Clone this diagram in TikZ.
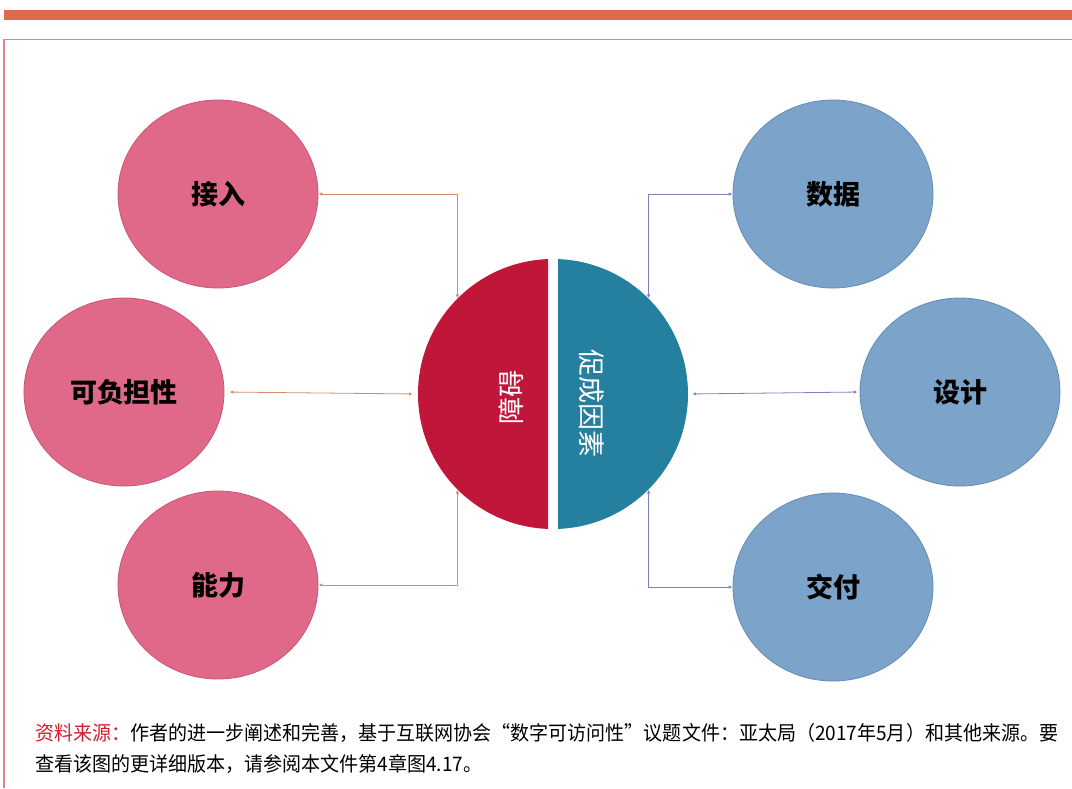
\documentclass[tikz,border=0pt]{standalone}
\usepackage{fontspec}
\newfontfamily\cjk{Noto Sans CJK SC}
\usetikzlibrary{shapes.geometric,arrows.meta}
\definecolor{barorange}{RGB}{222,108,72}
\definecolor{framered}{RGB}{230,128,138}
\definecolor{pinkfill}{RGB}{224,105,138}
\definecolor{pinkedge}{RGB}{200,85,115}
\definecolor{bluefill}{RGB}{124,164,202}
\definecolor{blueedge}{RGB}{100,140,180}
\definecolor{crimson}{RGB}{192,22,58}
\definecolor{teal}{RGB}{36,128,158}
\definecolor{leftline}{RGB}{215,140,110}
\definecolor{rightline}{RGB}{128,128,190}
\definecolor{srcred}{RGB}{210,30,45}
\tikzset{
  pinkball/.style={ellipse, fill=pinkfill, draw=pinkedge, line width=0.8pt, minimum width=200pt, minimum height=188pt, inner sep=0pt, font=\cjk\bfseries\fontsize{27}{27}\selectfont},
  blueball/.style={ellipse, fill=bluefill, draw=blueedge, line width=0.8pt, minimum width=200pt, minimum height=188pt, inner sep=0pt, font=\cjk\bfseries\fontsize{27}{27}\selectfont},
  lconn/.style={draw=leftline, line width=0.8pt, {Latex[length=4pt,width=3.5pt]}-{Latex[length=4pt,width=3.5pt]}},
  rconn/.style={draw=rightline, line width=0.8pt, {Latex[length=4pt,width=3.5pt]}-{Latex[length=4pt,width=3.5pt]}},
  caption/.style={anchor=base west, inner sep=0pt},
  hubtext/.style={text=white, font=\cjk\fontsize{27}{27}\selectfont, inner sep=0pt}
}
\newsavebox\capboxA
\newsavebox\capboxB
\begin{document}
\sbox\capboxA{\cjk\fontsize{20}{20}\selectfont\textcolor{srcred}{资料来源：}作者的进一步阐述和完善，基于互联网协会“数字可访问性”议题文件：亚太局（2017年5月）和其他来源。要}
\sbox\capboxB{\cjk\fontsize{20}{20}\selectfont 查看该图的更详细版本，请参阅本文件第4章图4.17。}
\begin{tikzpicture}[x=1pt,y=-1pt]
\pgfmathsetmacro\capxs{1023/\wd\capboxA}
\useasboundingbox (0,0) rectangle (1072,788);
\fill[white] (0,0) rectangle (1072,788);
% top bar and frame
\fill[barorange] (4,10) rectangle (1072,20);
\draw[framered, line width=1.5pt] (4,788) -- (4,39.5) -- (1072,39.5);
% hub
\node[circle, minimum size=270pt, inner sep=0pt] (hub) at (553,394) {};
\begin{scope}
\clip (400,250) rectangle (548,540);
\fill[crimson] (553,394) circle (135);
\end{scope}
\begin{scope}
\clip (558,250) rectangle (710,540);
\fill[teal] (553,394) circle (135);
\end{scope}
\node[rotate=90, hubtext] (zhangai) at (511,397) {障碍};
\node[rotate=-90, hubtext] (cucheng) at (592,403) {促成因素};
% balls
\node[pinkball] (jieru) at (218,194) {接入};
\node[pinkball] (kefu) at (124,392) {可负担性};
\node[pinkball] (nengli) at (218,585) {能力};
\node[blueball] (shuju) at (833,194) {数据};
\node[blueball] (sheji) at (960,392) {设计};
\node[blueball] (jiaofu) at (833,587) {交付};
% connectors
\draw[lconn] (hub.135) |- (jieru.east);
\draw[lconn, shorten <=5pt, shorten >=5pt] (kefu.east) -- (hub.west);
\draw[lconn] (hub.225) |- (nengli.east);
\draw[rconn] (hub.45) |- (shuju.west);
\draw[rconn, shorten <=4pt, shorten >=2pt] (hub.east) -- (sheji.west);
\draw[rconn] (hub.315) |- (jiaofu.west);
% caption
\node[caption] (src1) at (35,740) {\scalebox{\capxs}[1]{\usebox\capboxA}};
\node[caption] (src2) at (35,771) {\scalebox{\capxs}[1]{\usebox\capboxB}};
\end{tikzpicture}
\end{document}
